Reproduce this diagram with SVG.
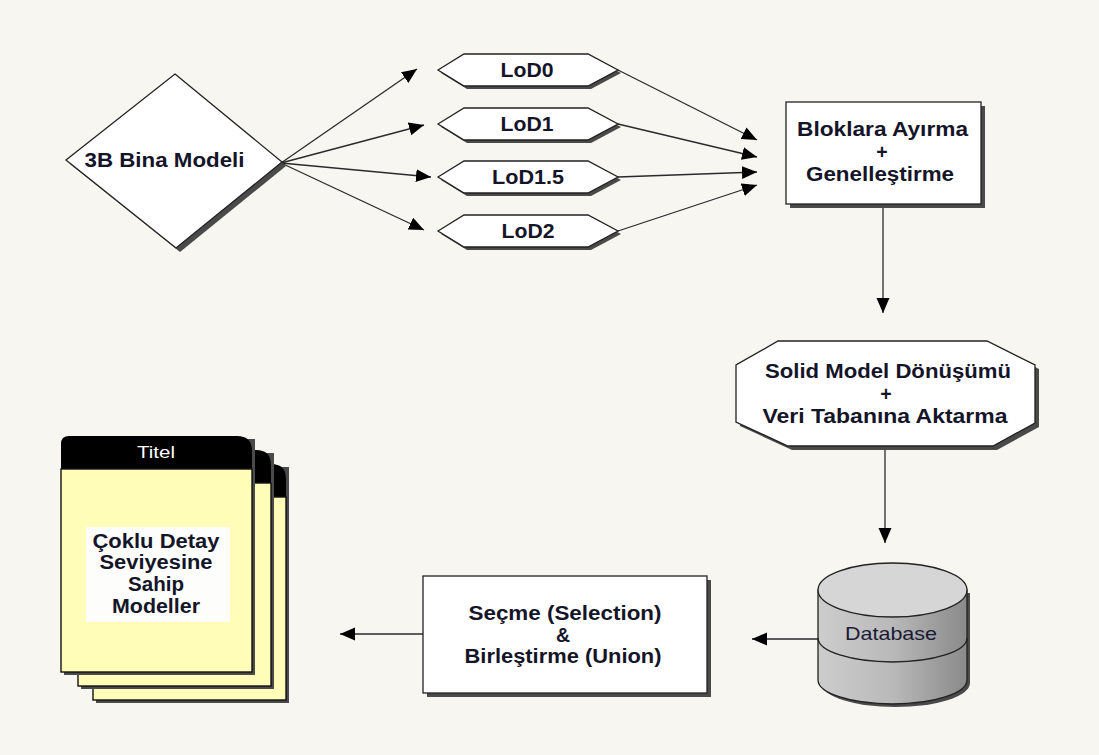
<svg xmlns="http://www.w3.org/2000/svg" width="1099" height="755" viewBox="0 0 1099 755">
<style>
.bg{fill:#f8f6f0}
.shape{fill:#ffffff;stroke:#222;stroke-width:1.3}
.shadow{fill:#4a4a4a}
.t{font-family:"Liberation Sans",Arial,sans-serif;font-weight:bold;font-size:19.5px;fill:#15152a;text-anchor:middle}
.tn{font-family:"Liberation Sans",Arial,sans-serif;font-size:18.5px;fill:#1a1a33;text-anchor:middle}
.conn{stroke:#2a2a2a;stroke-width:1.3;fill:none;marker-end:url(#arr)}
.page{fill:#fffdb8;stroke:#111;stroke-width:1.4}
.head{fill:#000}
</style>
<defs>
<marker id="arr" markerUnits="userSpaceOnUse" markerWidth="16" markerHeight="14" refX="15" refY="6.5" orient="auto">
<path d="M0,0 L15,6.5 L0,13 Z" fill="#000"/>
</marker>
<linearGradient id="cyl" x1="0" y1="0" x2="1" y2="0">
<stop offset="0" stop-color="#cdcdcd"/>
<stop offset="0.5" stop-color="#b9b9b9"/>
<stop offset="1" stop-color="#8a8a8a"/>
</linearGradient>
</defs>
<rect class="bg" x="0" y="0" width="1099" height="755"/>

<g id="connectors">
<line class="conn" x1="281" y1="163" x2="417" y2="69"/>
<line class="conn" x1="281" y1="163" x2="424" y2="125"/>
<line class="conn" x1="281" y1="163" x2="431" y2="177"/>
<line class="conn" x1="281" y1="163" x2="424" y2="230"/>
<line class="conn" x1="618" y1="70" x2="757" y2="140"/>
<line class="conn" x1="618" y1="124" x2="757" y2="157"/>
<line class="conn" x1="618" y1="177" x2="757" y2="172"/>
<line class="conn" x1="618" y1="231" x2="757" y2="185"/>
<line class="conn" x1="883" y1="204" x2="883" y2="313"/>
<line class="conn" x1="885" y1="447" x2="885" y2="543"/>
<line class="conn" x1="818" y1="639" x2="752" y2="639"/>
<line class="conn" x1="423" y1="634" x2="340" y2="634"/>
</g>

<g id="node-3b-bina-modeli">
<polygon class="shadow" points="179,78 286,166 180,252 70,164"/>
<polygon class="shape" points="175,74 282,162 176,248 66,160"/>
<text class="t" x="164.5" y="167" textLength="160" lengthAdjust="spacingAndGlyphs">3B Bina Modeli</text>
</g>

<g id="node-lod0">
<polygon class="shadow" points="441,73 467,57 591,57 621,73 591,89 467,89"/>
<polygon class="shape" points="438,70 464,54 588,54 618,70 588,86 464,86"/>
<text class="t" x="527" y="76.5" textLength="53" lengthAdjust="spacingAndGlyphs">LoD0</text>
</g>
<g id="node-lod1">
<polygon class="shadow" points="441,127 467,111 591,111 621,127 591,143 467,143"/>
<polygon class="shape" points="438,124 464,108 588,108 618,124 588,140 464,140"/>
<text class="t" x="527" y="130.5" textLength="53" lengthAdjust="spacingAndGlyphs">LoD1</text>
</g>
<g id="node-lod1-5">
<polygon class="shadow" points="441,180 467,164 591,164 621,180 591,196 467,196"/>
<polygon class="shape" points="438,177 464,161 588,161 618,177 588,193 464,193"/>
<text class="t" x="528" y="183.5" textLength="72" lengthAdjust="spacingAndGlyphs">LoD1.5</text>
</g>
<g id="node-lod2">
<polygon class="shadow" points="441,234 467,218 591,218 621,234 591,250 467,250"/>
<polygon class="shape" points="438,231 464,215 588,215 618,231 588,247 464,247"/>
<text class="t" x="528" y="237.5" textLength="53" lengthAdjust="spacingAndGlyphs">LoD2</text>
</g>

<g id="node-bloklara">
<rect class="shadow" x="790" y="106" width="195" height="102"/>
<rect class="shape" x="786" y="102" width="195" height="102"/>
<text class="t" x="882.5" y="136" textLength="171" lengthAdjust="spacingAndGlyphs">Bloklara Ayırma</text>
<text class="t" x="882" y="158.5">+</text>
<text class="t" x="880" y="181" textLength="148" lengthAdjust="spacingAndGlyphs">Genelleştirme</text>
</g>

<g id="node-solid-model">
<polygon class="shadow" points="782,345 991,345 1039,369 1039,427 997,450 792,450 740,426 740,369"/>
<polygon class="shape" points="778,341 987,341 1035,365 1035,423 993,446 788,446 736,422 736,365"/>
<text class="t" x="888" y="378" textLength="246" lengthAdjust="spacingAndGlyphs">Solid Model Dönüşümü</text>
<text class="t" x="886" y="400.5">+</text>
<text class="t" x="885" y="423" textLength="245" lengthAdjust="spacingAndGlyphs">Veri Tabanına Aktarma</text>
</g>

<g id="node-database">
<path class="shadow" d="M821,593 L821,683 A74.5,24 0 0 0 970,683 L970,593 Z"/>
<path d="M818,590 L818,680 A74.5,24 0 0 0 967,680 L967,590 Z" fill="url(#cyl)" stroke="#222" stroke-width="1.3"/>
<ellipse cx="892.5" cy="590" rx="74.5" ry="27" fill="#d6d6d6" stroke="#222" stroke-width="1.3"/>
<path d="M818,638 A74.5,24 0 0 0 967,638" fill="none" stroke="#222" stroke-width="1.3"/>
<text class="tn" x="891" y="640" textLength="92" lengthAdjust="spacingAndGlyphs">Database</text>
</g>

<g id="node-selection">
<rect class="shadow" x="427" y="580" width="284" height="117"/>
<rect class="shape" x="423" y="576" width="284" height="117"/>
<text class="t" x="565" y="620" textLength="193" lengthAdjust="spacingAndGlyphs">Seçme (Selection)</text>
<text class="t" x="563" y="642">&amp;</text>
<text class="t" x="563" y="663" textLength="197" lengthAdjust="spacingAndGlyphs">Birleştirme (Union)</text>
</g>

<g id="node-document">
<rect class="shadow" x="96" y="467" width="193" height="236"/>
<path class="head" d="M93,700 L93,472 Q93,464 101,464 L271,464 Q286,464 286,479 L286,700 Z"/>
<rect class="page" x="93" y="497" width="193" height="203"/>
<rect class="shadow" x="81" y="453" width="193" height="236"/>
<path class="head" d="M78,686 L78,458 Q78,450 86,450 L256,450 Q271,450 271,465 L271,686 Z"/>
<rect class="page" x="78" y="483" width="193" height="203"/>
<rect class="shadow" x="64" y="439" width="191" height="236"/>
<path class="head" d="M61,672 L61,444 Q61,436 69,436 L237,436 Q252,436 252,451 L252,672 Z"/>
<rect class="page" x="61" y="469" width="191" height="203"/>
<text x="156" y="458" font-family="Liberation Sans,Arial,sans-serif" font-size="17" fill="#ffffff" text-anchor="middle" textLength="38" lengthAdjust="spacingAndGlyphs">Titel</text>
<rect x="86" y="527" width="144" height="95" fill="#fdfdfb"/>
<text class="t" x="156" y="548" font-size="18.5" fill="#2a2a2a" textLength="127" lengthAdjust="spacingAndGlyphs">Çoklu Detay</text>
<text class="t" x="156" y="569" font-size="18.5" fill="#2a2a2a" textLength="113" lengthAdjust="spacingAndGlyphs">Seviyesine</text>
<text class="t" x="156" y="591" font-size="18.5" fill="#2a2a2a" textLength="56" lengthAdjust="spacingAndGlyphs">Sahip</text>
<text class="t" x="156" y="613" font-size="18.5" fill="#2a2a2a" textLength="88" lengthAdjust="spacingAndGlyphs">Modeller</text>
</g>
</svg>
